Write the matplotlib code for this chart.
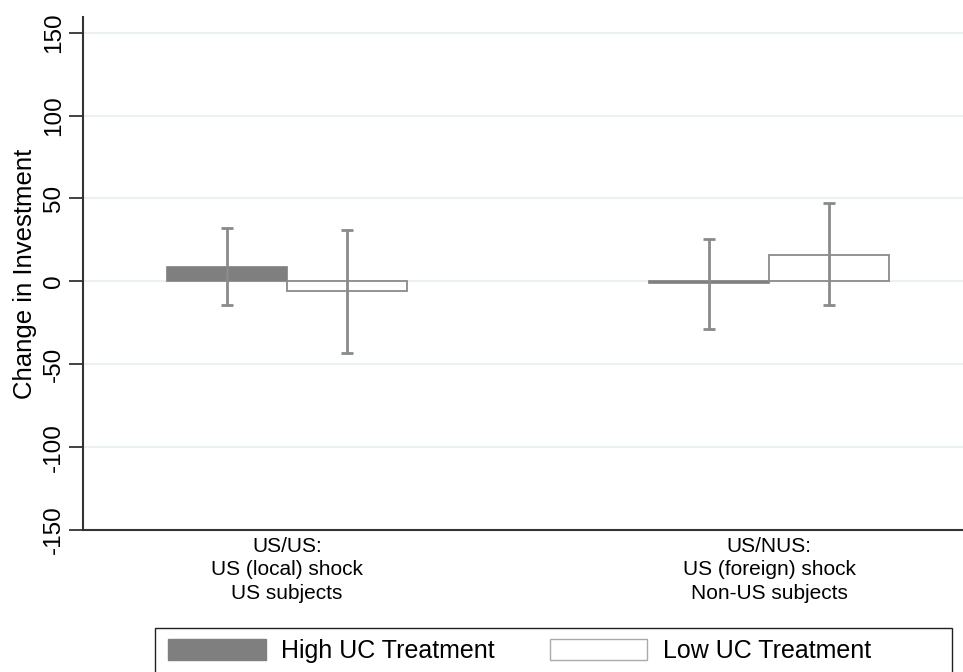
import numpy as np
import matplotlib
matplotlib.use('Agg')
import matplotlib.pyplot as plt
from matplotlib.patches import Patch, Rectangle

plt.rcParams['font.family'] = ['Liberation Sans', 'DejaVu Sans']

# Mean change in investment by group and treatment, with CI bounds
groups = ['US/US:\nUS (local) shock\nUS subjects',
          'US/NUS:\nUS (foreign) shock\nNon-US subjects']
high_mean = [8.5, -1.0]
high_lo = [-14.0, -28.5]
high_hi = [32.5, 25.3]
low_mean = [-6.0, 15.7]
low_lo = [-43.0, -14.0]
low_hi = [30.7, 47.0]
yticks = [-150, -100, -50, 0, 50, 100, 150]

grey_dark = '#7f7f7f'
grey_err = '#8a8a8a'
grid_col = '#e9f1f2'

fig = plt.figure(figsize=(9.63, 6.72), dpi=100)
ax = fig.add_axes([83 / 963, 142 / 672, 1 - 83 / 963, 513 / 672])

x = np.arange(len(groups))
w = 0.249

ax.bar(x - w / 2, high_mean, width=w, color=grey_dark, edgecolor=grey_dark,
       linewidth=1.2, zorder=2)
ax.bar(x + w / 2, low_mean, width=w, color='white', edgecolor=grey_err,
       linewidth=1.3, zorder=2)

def add_err(xs, mean, lo, hi):
    mean = np.array(mean)
    yerr = [mean - np.array(lo), np.array(hi) - mean]
    ax.errorbar(xs, mean, yerr=yerr, fmt='none', ecolor=grey_err,
                elinewidth=2, capsize=4.5, capthick=2, zorder=3)

add_err(x - w / 2, high_mean, high_lo, high_hi)
add_err(x + w / 2, low_mean, low_lo, low_hi)

ax.set_xlim(-0.423, 1.402)
ax.set_ylim(-150, 159.5)
ax.set_yticks(yticks)
ax.set_yticklabels([str(t) for t in yticks], rotation=90, va='center',
                   fontsize=17.5)
for t in yticks[1:]:
    ax.axhline(t, color=grid_col, linewidth=1.5, zorder=0)

ax.set_xticks(x)
ax.set_xticklabels(groups, fontsize=15, linespacing=1.3)
ax.tick_params(axis='x', length=0, pad=5)
ax.tick_params(axis='y', length=10, width=1.3, color='#333333', pad=3)

ax.set_ylabel('Change in Investment', fontsize=18.5, labelpad=4)

for side in ['top', 'right']:
    ax.spines[side].set_visible(False)
for side in ['left', 'bottom']:
    ax.spines[side].set_color('#333333')
    ax.spines[side].set_linewidth(1.5)

# legend box runs off the bottom edge
fig.patches.append(Rectangle((155 / 963, -0.02), 797 / 963, 0.02 + 44 / 672,
                             transform=fig.transFigure, fill=False,
                             edgecolor='#222222', linewidth=1.0))
handles = [Patch(facecolor=grey_dark, edgecolor=grey_dark, label='High UC Treatment'),
           Patch(facecolor='white', edgecolor='#aaaaaa', label='Low UC Treatment')]
fig.legend(handles=handles, loc='upper left',
           bbox_to_anchor=(168 / 963, 1 - 639 / 672),
           ncol=2, fontsize=18, frameon=False, handlelength=3.9,
           handleheight=0.9, handletextpad=0.62, borderpad=0,
           borderaxespad=0, columnspacing=2.2)

fig.savefig('out.png', dpi=100)
